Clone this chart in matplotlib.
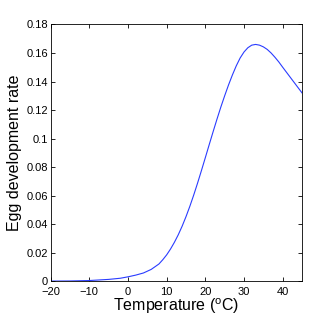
import matplotlib
matplotlib.use("Agg")
import matplotlib.pyplot as plt

# 온도별 알 발육률
temperature = [-20, -15, -10, -5, -2, 0, 2, 4, 6, 8, 9, 10, 11, 12, 13, 14, 15, 16, 17, 18,
               19, 20, 21, 22, 23, 24, 25, 26, 27, 28, 29, 30, 31, 32, 33, 34, 35, 36, 37,
               38, 39, 40, 41, 42, 43, 44, 45]
dev_rate = [0.00002, 0.0001, 0.0004, 0.0012, 0.002, 0.003, 0.0042, 0.0057, 0.0082, 0.012,
            0.015, 0.0184, 0.0225, 0.0272, 0.0325, 0.0385, 0.0452, 0.0525, 0.0604, 0.0688,
            0.0776, 0.0866, 0.0957, 0.1047, 0.1135, 0.122, 0.130, 0.1376, 0.1446, 0.151,
            0.1565, 0.1607, 0.1637, 0.1655, 0.166, 0.1655, 0.1643, 0.1625, 0.160,
            0.157, 0.1537, 0.150, 0.1464, 0.1428, 0.1392, 0.1356, 0.132]

xticks = [-20, -10, 0, 10, 20, 30, 40]
yticks = [0, 0.02, 0.04, 0.06, 0.08, 0.1, 0.12, 0.14, 0.16, 0.18]
ytick_labels = ["0", "0.02", "0.04", "0.06", "0.08", "0.1", "0.12", "0.14", "0.16", "0.18"]

plt.rcParams['font.family'] = ['Liberation Sans', 'DejaVu Sans']
plt.rcParams['mathtext.fontset'] = 'custom'
plt.rcParams['mathtext.rm'] = 'Liberation Sans'
plt.rcParams['mathtext.it'] = 'Liberation Sans'

fig = plt.figure(figsize=(3.33, 3.22), dpi=100)
ax = fig.add_axes([0.152, 0.127, 0.755, 0.797])

ax.plot(temperature, dev_rate, color='#2a3cff', lw=0.8)

ax.set_xlim(-20, 45)
ax.set_ylim(0, 0.18)
ax.set_xticks(xticks)
ax.set_yticks(yticks)
ax.set_yticklabels(ytick_labels)
ax.tick_params(direction='in', top=True, right=True, labelsize=8, length=3, width=0.6)
ax.tick_params(axis='x', pad=4)
ax.tick_params(axis='y', pad=2)
for s in ax.spines.values():
    s.set_linewidth(0.6)

ax.set_xlabel("Temperature ($^o$C)", fontsize=11.5, labelpad=0)
ax.set_ylabel("Egg development rate", fontsize=11.5, labelpad=3)

fig.savefig("out.png", dpi=100)
